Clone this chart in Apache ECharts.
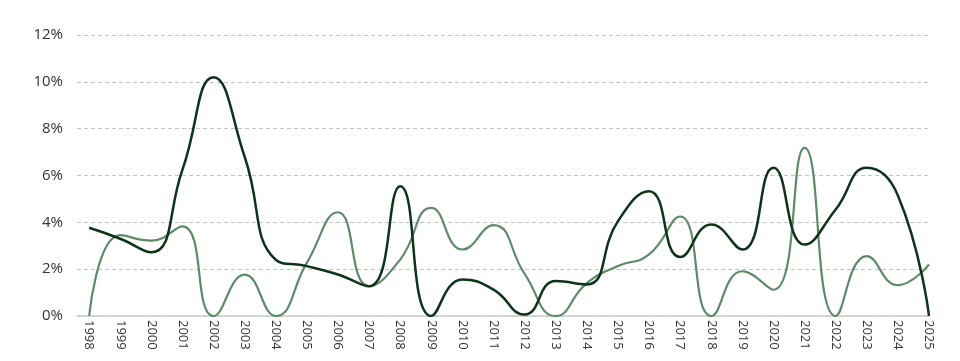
<!DOCTYPE html>
<html><head><meta charset="utf-8">
<script src="https://cdn.jsdelivr.net/npm/echarts@6/dist/echarts.min.js"></script>
<style>html,body{margin:0;padding:0;background:#fff}#c{width:960px;height:361px}</style>
</head><body><div id="c"></div>
<script>
const years = [1998,1999,2000,2001,2002,2003,2004,2005,2006,2007,2008,2009,2010,2011,2012,2013,2014,2015,2016,2017,2018,2019,2020,2021,2022,2023,2024,2025];
const darkSeries = [3.77,3.3,2.72,6.25,10.2,6.8,2.4,2.13,1.77,1.27,5.54,0,1.56,1.13,0.06,1.49,1.35,4.05,5.33,2.52,3.91,2.84,6.33,3.05,4.55,6.33,5.15,0];
const greenSeries = [0,3.45,3.22,3.83,0,1.77,0,2.28,4.43,1.27,2.41,4.62,2.84,3.88,1.8,0,1.4,2.13,2.63,4.25,0,1.91,1.12,7.18,0,2.56,1.32,2.2];
const yTicks = [0,2,4,6,8,10,12];

const chart = echarts.init(document.getElementById('c'), null, {renderer:'canvas'});
const font = '"Open Sans", sans-serif';
chart.setOption({
  animation:false,
  grid:{left:77,right:31,top:35,bottom:45,containLabel:false},
  xAxis:{
    type:'value', min:1997.61, max:2025,
    axisLine:{show:true,lineStyle:{color:'#cccccc',width:1.5}},
    axisTick:{show:false},
    splitLine:{show:false},
    axisLabel:{customValues:years, rotate:-90, color:'#333', fontFamily:font, fontSize:13, margin:4,
      formatter:v=>String(Math.round(v))}
  },
  yAxis:{
    type:'value', min:yTicks[0], max:yTicks[yTicks.length-1], interval:2,
    axisLine:{show:false}, axisTick:{show:false},
    axisLabel:{color:'#333', fontFamily:font, fontSize:15, margin:14, formatter:v=>v+'%'},
    splitLine:{lineStyle:{color:'#c4c4c4',type:[4,3],width:1}}
  },
  series:[
    {type:'line', smooth:0.5, symbol:'none', data:years.map((y,i)=>[y,greenSeries[i]]),
     lineStyle:{color:'#5f8a67',width:2.2}, z:2},
    {type:'line', smooth:0.5, symbol:'none', data:years.map((y,i)=>[y,darkSeries[i]]),
     lineStyle:{color:'#0e3318',width:2.5}, z:3}
  ]
});
</script></body></html>
